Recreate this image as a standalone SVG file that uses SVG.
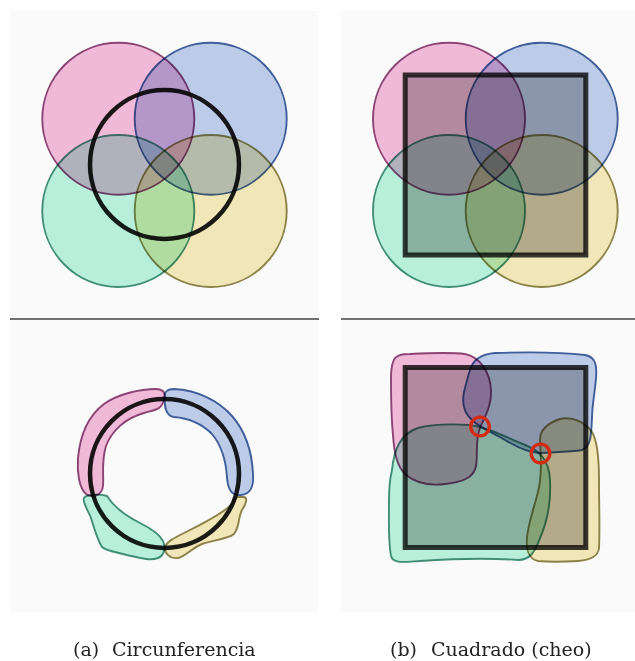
<svg xmlns="http://www.w3.org/2000/svg" width="635" height="661" viewBox="0 0 635 661">
<style>
.panel{fill:#fafafa}
.div{stroke:#707070;stroke-width:2}
.pk{fill:#f5bddc;stroke:#8e4476;stroke-width:1.9;mix-blend-mode:multiply}
.bl{fill:#c0cfed;stroke:#40609c;stroke-width:1.9;mix-blend-mode:multiply}
.gr{fill:#bcf4e0;stroke:#42907a;stroke-width:1.9;mix-blend-mode:multiply}
.ye{fill:#f5ebbc;stroke:#8e8448;stroke-width:1.9;mix-blend-mode:multiply}
.ring{fill:none;stroke:#1c1c1c;stroke-width:4.5;mix-blend-mode:multiply}
.sqf{fill:#bdbdbd;mix-blend-mode:multiply}
.sqs{fill:none;stroke:#3a3a3a;stroke-width:5;mix-blend-mode:multiply}
.red{fill:none;stroke:#d42a10;stroke-width:3.3}
.cap{font-family:"DejaVu Serif","Liberation Serif",serif;font-size:19px;fill:#222}
</style>
<rect width="635" height="661" fill="#fff"/>
<g id="panels">
<rect class="panel" x="10" y="11" width="309" height="307"/>
<rect class="panel" x="10" y="320" width="309" height="292"/>
<rect class="panel" x="341" y="11" width="294" height="307"/>
<rect class="panel" x="341" y="320" width="294" height="292"/>
<line class="div" x1="10" y1="319" x2="319" y2="319"/>
<line class="div" x1="341" y1="319" x2="635" y2="319"/>
</g>
<g id="a-top">
<circle class="pk" cx="118.3" cy="118.7" r="76"/>
<circle class="bl" cx="210.7" cy="118.7" r="76"/>
<circle class="gr" cx="118.3" cy="211" r="76"/>
<circle class="ye" cx="210.7" cy="211" r="76"/>
<circle class="ring" cx="164.5" cy="164.5" r="74.5"/>
</g>
<g id="b-top">
<rect class="sqf" x="405.2" y="75" width="180.6" height="180"/>
<circle class="pk" cx="449" cy="118.7" r="76"/>
<circle class="bl" cx="541.7" cy="118.7" r="76"/>
<circle class="gr" cx="449" cy="211" r="76"/>
<circle class="ye" cx="541.7" cy="211" r="76"/>
<rect class="sqs" x="405.2" y="75" width="180.6" height="180"/>
</g>
<g id="a-bottom">
<path class="pk" d="M164 398 C166 392,162 389,156 389 C140 389,118 394,104 404 C88 416,80 436,78 458 C77 472,79 488,86 494 C92 498,102 496,103 486 C104 474,101 462,106 446 C112 430,126 418,144 413 C154 410,163 410,164 398 Z"/>
<path class="bl" d="M165 398 C164 391,168 389,174 389 C196 390,218 400,232 416 C246 432,252 452,253 474 C254 488,250 494,241 495 C232 496,228 490,227 478 C226 460,222 446,212 434 C202 424,188 418,174 417 C166 416,164 406,165 398 Z"/>
<path class="gr" d="M84 498 C86 494,100 494,107 496 C112 504,122 514,140 523 C152 529,160 535,163 541 C166 548,164 556,158 558 C150 561,140 558,127 555 C116 552,106 551,102 547 C98 541,94 528,91 518 C88 510,82 502,84 498 Z"/>
<path class="ye" d="M165 547 C167 541,176 537,188 531 C204 523,222 514,231 505 C234 500,235 497,239 497 L244 497 C248 498,246 504,242 510 C238 517,240 526,234 534 C228 539,214 540,202 544 C192 548,186 556,178 558 C170 559,164 553,165 547 Z"/>
<circle class="ring" cx="164.5" cy="473.5" r="74.5"/>
</g>
<g id="b-bottom">
<rect class="sqf" x="405.2" y="367.5" width="180.6" height="180"/>
<path class="pk" d="M393 362 C395 355,402 354,410 354 C430 353,450 352,465 354 C480 357,490 372,491 390 C492 406,484 418,480 428 C475 440,478 455,476 466 C474 478,462 482,445 484 C430 486,416 483,406 475 C396 466,394 450,393 435 C391 415,391 395,391 378 C391 370,392 365,393 362 Z"/>
<path class="bl" d="M470 370 C473 360,482 354,495 353 C525 352,560 352,585 355 C596 357,597 366,596 378 C595 392,592 405,592 418 C591 432,592 446,582 450 C570 452,555 452,540 453 C528 453,515 446,505 440 C495 434,480 428,472 420 C463 412,462 402,464 392 C466 384,468 376,470 370 Z"/>
<path class="gr" d="M392 470 C394 450,400 434,418 428 C432 424,455 424,470 425 C490 428,505 437,525 445 C540 451,549 460,550 480 C551 500,548 520,540 538 C535 552,530 560,518 560 C490 558,450 559,420 561 C404 562,393 564,391 556 C388 540,389 520,389 500 C389 488,390 478,392 470 Z"/>
<path class="ye" d="M540 440 C540 430,548 423,560 419 C572 416,585 422,592 432 C598 442,599 460,599 480 C599 505,600 530,599 548 C598 556,592 560,578 561 C562 562,548 562,538 561 C528 559,526 548,527 538 C528 524,534 508,538 492 C542 476,541 458,540 440 Z"/>
<rect class="sqs" x="405.2" y="367.5" width="180.6" height="180"/>
<circle class="red" cx="480" cy="426.5" r="9.3"/>
<circle class="red" cx="540.5" cy="453.5" r="9.3"/>
</g>
<g id="captions">
<text class="cap" x="73" y="656">(a)</text>
<text class="cap" x="112" y="656">Circunferencia</text>
<text class="cap" x="390" y="656">(b)</text>
<text class="cap" x="431" y="656">Cuadrado (cheo)</text>
</g>
</svg>
